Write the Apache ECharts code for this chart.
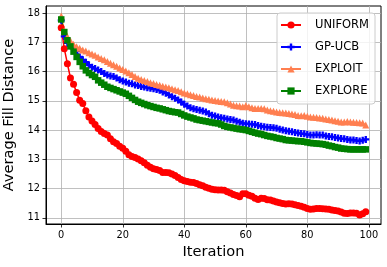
<!DOCTYPE html>
<html>
<head>
<meta charset="utf-8">
<script src="https://cdn.jsdelivr.net/npm/echarts@6/dist/echarts.min.js"></script>
<style>html,body{margin:0;padding:0;background:#fff;}#c{width:387px;height:267px;}</style>
</head>
<body>
<div id="c"></div>
<script>
const iterations = Array.from({length: 100}, (_, i) => i);
const xTicks = [0, 20, 40, 60, 80, 100];
const yTicks = [11, 12, 13, 14, 15, 16, 17, 18];

const uniform = [17.50,16.78,16.27,15.78,15.57,15.28,15.02,14.91,14.66,14.45,
14.31,14.19,14.05,13.95,13.88,13.83,13.70,13.60,13.54,13.45,
13.38,13.28,13.16,13.10,13.06,13.01,12.95,12.88,12.80,12.73,
12.68,12.65,12.62,12.55,12.55,12.54,12.50,12.45,12.38,12.31,
12.27,12.24,12.22,12.21,12.17,12.13,12.10,12.05,12.01,11.98,
11.96,11.95,11.95,11.94,11.89,11.85,11.80,11.76,11.72,11.82,
11.82,11.77,11.74,11.67,11.63,11.67,11.66,11.62,11.61,11.58,
11.54,11.52,11.49,11.47,11.48,11.47,11.45,11.42,11.40,11.36,
11.32,11.29,11.30,11.32,11.32,11.31,11.30,11.29,11.27,11.25,
11.23,11.20,11.16,11.15,11.17,11.17,11.16,11.10,11.14,11.21];

const gpucb = [17.75,17.20,16.98,16.88,16.80,16.70,16.50,16.40,16.32,16.22,
16.15,16.10,16.05,16.00,15.93,15.88,15.85,15.83,15.78,15.72,
15.68,15.64,15.60,15.58,15.54,15.52,15.49,15.47,15.45,15.43,
15.41,15.39,15.36,15.30,15.26,15.20,15.14,15.09,15.03,14.96,
14.88,14.82,14.76,14.73,14.70,14.68,14.65,14.62,14.56,14.51,
14.48,14.45,14.42,14.40,14.38,14.36,14.34,14.30,14.27,14.23,
14.22,14.21,14.20,14.19,14.16,14.13,14.11,14.10,14.09,14.08,
14.06,14.03,14.00,13.98,13.96,13.94,13.92,13.90,13.88,13.87,
13.85,13.83,13.83,13.84,13.83,13.83,13.80,13.78,13.77,13.75,
13.73,13.71,13.70,13.68,13.66,13.66,13.64,13.63,13.65,13.68];

const exploit = [17.90,17.40,17.20,17.05,16.93,16.85,16.80,16.74,16.70,16.64,
16.60,16.56,16.50,16.45,16.40,16.34,16.28,16.23,16.18,16.12,
16.07,16.02,15.96,15.90,15.83,15.77,15.73,15.69,15.66,15.62,
15.59,15.56,15.53,15.50,15.47,15.45,15.41,15.38,15.35,15.31,
15.27,15.24,15.21,15.18,15.15,15.13,15.10,15.07,15.05,15.03,
15.01,14.99,14.98,14.97,14.93,14.89,14.85,14.83,14.82,14.80,
14.84,14.80,14.76,14.74,14.74,14.74,14.73,14.69,14.66,14.64,
14.62,14.60,14.59,14.58,14.57,14.55,14.53,14.50,14.49,14.50,
14.47,14.45,14.44,14.43,14.41,14.40,14.38,14.36,14.34,14.32,
14.30,14.28,14.28,14.29,14.28,14.27,14.26,14.25,14.24,14.17];

const explore = [17.78,17.35,17.07,16.86,16.68,16.50,16.33,16.18,16.04,15.95,
15.88,15.82,15.70,15.62,15.55,15.48,15.44,15.40,15.36,15.32,
15.28,15.24,15.17,15.10,15.03,14.97,14.93,14.89,14.85,14.82,
14.79,14.76,14.74,14.71,14.68,14.65,14.63,14.61,14.60,14.55,
14.50,14.46,14.43,14.40,14.36,14.34,14.32,14.30,14.28,14.26,
14.24,14.23,14.19,14.14,14.11,14.09,14.07,14.05,14.03,14.02,
14.00,13.97,13.94,13.91,13.88,13.86,13.83,13.80,13.78,13.76,
13.73,13.71,13.69,13.66,13.65,13.64,13.63,13.62,13.62,13.60,
13.58,13.56,13.55,13.54,13.53,13.52,13.50,13.47,13.45,13.42,
13.40,13.37,13.36,13.35,13.34,13.34,13.34,13.34,13.34,13.34];

const FONT = 'DejaVu Sans';
const plusPath = 'path://M1,0H2V1H3V2H2V3H1V2H0V1H1Z';

function pairs(arr) { return arr.map((v, i) => [iterations[i], v]); }
function mkSeries(name, data, color, symbol, size) {
  return {
    name: name, type: 'line', data: pairs(data),
    symbol: symbol, symbolSize: size, showSymbol: true,
    lineStyle: {color: color, width: 1.5},
    itemStyle: {color: color, borderWidth: 0},
    emphasis: {disabled: true},
    animation: false
  };
}

const chart = echarts.init(document.getElementById('c'), null, {renderer: 'canvas'});
chart.setOption({
  animation: false,
  backgroundColor: '#fff',
  grid: {left: 46, right: 6, top: 6, bottom: 43, containLabel: false, outerBoundsMode: 'none',
         show: true, borderColor: '#000', borderWidth: 1, backgroundColor: 'transparent'},
  legend: {
    orient: 'vertical', right: 12, top: 13,
    itemWidth: 20, itemHeight: 9, itemGap: 10,
    padding: [6, 6, 7, 3],
    backgroundColor: 'rgba(255,255,255,0.8)',
    borderColor: '#cccccc', borderWidth: 1, borderRadius: 3,
    textStyle: {fontFamily: FONT, fontSize: 11.5, color: '#000', padding: [0, 0, 0, 9]},
    data: ['UNIFORM', 'GP-UCB', 'EXPLOIT', 'EXPLORE']
  },
  xAxis: {
    type: 'value', min: -4.95, max: 103.95,
    name: 'Iteration', nameLocation: 'middle', nameGap: 20,
    nameTextStyle: {fontFamily: FONT, fontSize: 14.6, color: '#000'},
    axisLine: {show: true, onZero: false, lineStyle: {color: '#000', width: 1}},
    axisTick: {show: true, length: 3.5, inside: false, customValues: xTicks, lineStyle: {color: '#000', width: 0.8}},
    axisLabel: {show: true, margin: 6, customValues: xTicks, fontFamily: FONT, fontSize: 9.8, color: '#000'},
    splitLine: {show: true, lineStyle: {color: '#b0b0b0', width: 0.8}}
  },
  yAxis: {
    type: 'value', min: 10.79, max: 18.24,
    name: 'Average Fill Distance', nameLocation: 'middle', nameGap: 22,
    nameTextStyle: {fontFamily: FONT, fontSize: 14.6, color: '#000'},
    axisLine: {show: true, onZero: false, lineStyle: {color: '#000', width: 1}},
    axisTick: {show: true, length: 3.5, inside: false, customValues: yTicks, lineStyle: {color: '#000', width: 0.8}},
    axisLabel: {show: true, margin: 6, customValues: yTicks, fontFamily: FONT, fontSize: 9.8, color: '#000'},
    splitLine: {show: true, lineStyle: {color: '#b0b0b0', width: 0.8}}
  },
  series: [
    mkSeries('UNIFORM', uniform, '#ff0000', 'circle', 7),
    mkSeries('GP-UCB', gpucb, '#0000ff', plusPath, 7),
    mkSeries('EXPLOIT', exploit, '#ff7f50', 'triangle', 7),
    mkSeries('EXPLORE', explore, '#008000', 'rect', 6.5)
  ]
});
</script>
</body>
</html>
